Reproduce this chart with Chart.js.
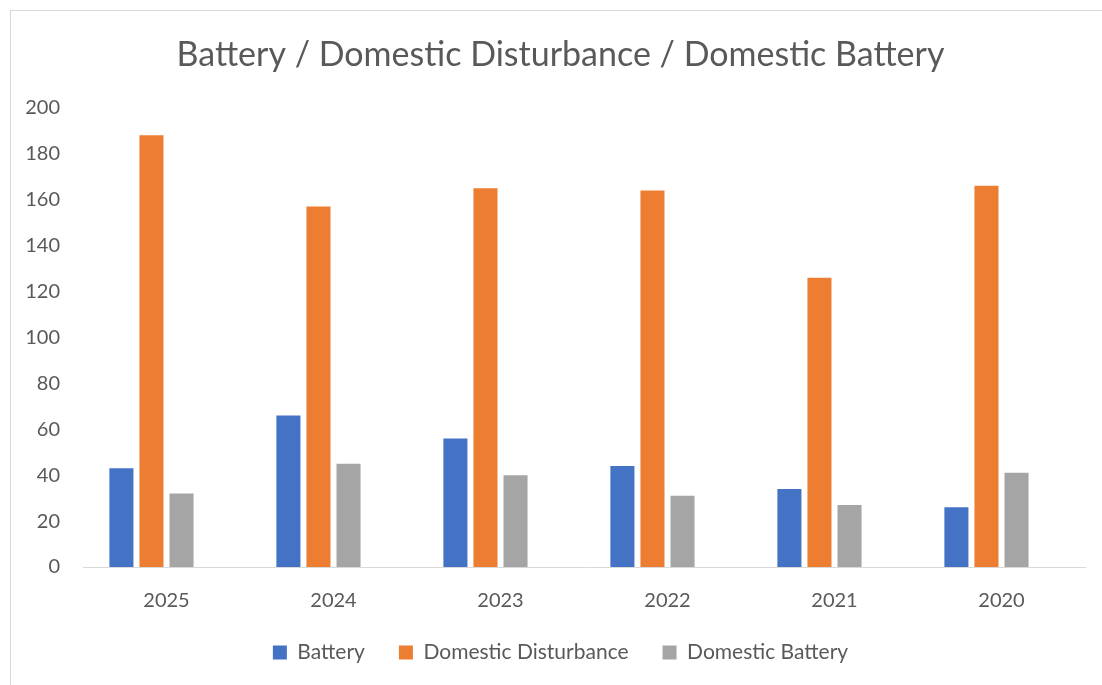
<!DOCTYPE html>
<html>
<head>
<meta charset="utf-8">
<script src="https://cdn.jsdelivr.net/npm/chart.js@4"></script>
<style>
  body { margin: 0; background: #fff; }
  #frame { position: absolute; left: 10px; top: 10px; width: 1100px; height: 680px; border: 1px solid #d9d9d9; }
  #wrap { position: absolute; left: 0; top: 0; width: 1102px; height: 685px; }
</style>
</head>
<body>
<div id="frame"></div>
<div id="wrap"><canvas id="myChart"></canvas></div>
<script>
// data
var years = ['2025', '2024', '2023', '2022', '2021', '2020']
var battery = [43, 66, 56, 44, 34, 26]
var domesticDisturbance = [188, 157, 165, 164, 126, 166]
var domesticBattery = [32, 45, 40, 31, 27, 41]
var emptySeries = [] // the original has an empty 4th slot in every group
var yTicks = [0, 20, 40, 60, 80, 100, 120, 140, 160, 180, 200]

var textColor = '#595959'
var fontName = 'Lato, Carlito, Calibri, sans-serif'

var ctx = document.getElementById('myChart').getContext('2d')
var chart = new Chart(ctx, {
  type: 'bar',
  data: {
    labels: years,
    datasets: [{
      label: 'Battery',
      data: battery,
      backgroundColor: '#4472C4'
    }, {
      label: 'Domestic Disturbance',
      data: domesticDisturbance,
      backgroundColor: '#ED7D31'
    }, {
      label: 'Domestic Battery',
      data: domesticBattery,
      backgroundColor: '#A5A5A5'
    }, {
      label: '',
      data: emptySeries,
      backgroundColor: 'rgba(0,0,0,0)'
    }]
  },
  options: {
    responsive: true,
    maintainAspectRatio: false,
    animation: false,
    datasets: {
      bar: { categoryPercentage: 0.72, barPercentage: 0.8 }
    },
    layout: { padding: { left: 19, right: 0, top: 0, bottom: 12 } },
    plugins: {
      title: {
        display: true,
        text: 'Battery / Domestic Disturbance / Domestic Battery',
        color: textColor,
        font: { family: fontName, size: 34, weight: 'normal' },
        padding: { top: 35, bottom: 32 }
      },
      legend: {
        position: 'bottom',
        labels: {
          color: textColor,
          font: { family: fontName, size: 21 },
          boxWidth: 14,
          boxHeight: 14,
          padding: 34,
          filter: function(item) { return item.text !== '' }
        }
      },
      tooltip: { enabled: false }
    },
    scales: {
      x: {
        afterFit: function(scale) { scale.height = 41 },
        grid: { display: false, drawTicks: false },
        border: { display: true, color: '#d9d9d9', width: 1 },
        ticks: { color: textColor, font: { family: fontName, size: 20 }, padding: 22 }
      },
      y: {
        min: 0,
        max: 200,
        afterBuildTicks: function(scale) {
          scale.ticks = yTicks.map(function(v) { return { value: v } })
        },
        afterFit: function(scale) { scale.width = 64 },
        grid: { display: false, drawTicks: false },
        border: { display: false },
        ticks: { color: textColor, font: { family: fontName, size: 20 }, padding: 23 }
      },
      // empty right-hand margin so the plot stops where the original does
      yRight: {
        position: 'right',
        afterFit: function(scale) { scale.width = 17 },
        grid: { display: false, drawTicks: false },
        border: { display: false },
        ticks: { display: false }
      }
    }
  }
})
</script>
</body>
</html>
